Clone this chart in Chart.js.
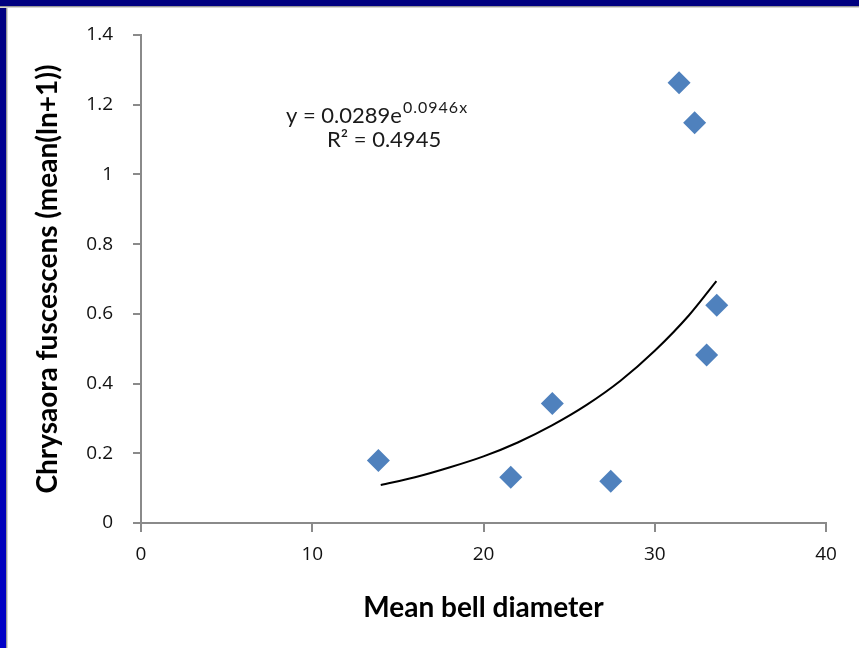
<!DOCTYPE html>
<html>
<head>
<meta charset="utf-8">
<script src="https://cdn.jsdelivr.net/npm/chart.js@4"></script>
<style>
  html, body { margin: 0; padding: 0; background: #fff; }
  .wrap { position: absolute; left: 0; top: 0; width: 859px; height: 648px; }
  .top-bar { position: absolute; left: 0; top: 0; width: 859px; height: 6px; background: #000080;
    border-bottom: 1px solid #9a9a9a; box-shadow: 0 1px 0 #d6d6d6; z-index: 2; }
  .left-bar { position: absolute; left: 0; top: 0; width: 6px; height: 648px;
    background: linear-gradient(#000080, #0000c8); border-right: 1px solid #9a9a9a; box-shadow: 1px 0 0 #d6d6d6; z-index: 1; }
</style>
</head>
<body>
<div class="wrap"><canvas id="chart"></canvas></div>
<div class="top-bar"></div>
<div class="left-bar"></div>
<script>
// bell diameter vs Chrysaora fuscescens
const bellDiameter = [13.86, 21.59, 24.02, 27.43, 31.42, 32.33, 33.03, 33.62];
const chrysaora = [0.179, 0.131, 0.343, 0.120, 1.263, 1.148, 0.482, 0.625];

// exponential trendline as drawn
const trendX = [14, 16, 18, 20, 22, 24, 26, 28, 30, 32, 33.6];
const trendY = [0.109, 0.131, 0.159, 0.191, 0.231, 0.280, 0.338, 0.408, 0.494, 0.596, 0.694];

const equationText = 'y = 0.0289e';
const equationExp = '0.0946x';
const rSquaredText = 'R² = 0.4945';

const xTitle = 'Mean bell diameter';
const yTitle = 'Chrysaora fuscescens (mean(ln+1))';

const axisGray = '#8a8a8a';
const tickFont = { family: 'Open Sans', size: 19 };

const equationLabel = {
  id: 'equationLabel',
  afterDraw(chart) {
    const ctx = chart.ctx;
    const { left, top } = chart.chartArea;
    const x = left + 145;
    ctx.save();
    ctx.fillStyle = '#1a1a1a';
    ctx.textBaseline = 'alphabetic';
    ctx.font = '22px Lato';
    ctx.fillText(equationText, x, top + 88);
    const w = ctx.measureText(equationText).width;
    ctx.font = '16px Lato';
    ctx.letterSpacing = '1px';
    ctx.fillText(equationExp, x + w + 1, top + 78);
    ctx.letterSpacing = '0px';
    ctx.font = '22px Lato';
    ctx.fillText(rSquaredText, x + 41, top + 112);
    ctx.restore();
  },
};

new Chart(document.getElementById('chart'), {
  type: 'scatter',
  data: {
    datasets: [
      {
        label: 'Chrysaora',
        data: bellDiameter.map((x, i) => ({ x, y: chrysaora[i] })),
        pointStyle: 'rectRot',
        pointRadius: 11.5,
        pointHoverRadius: 11.5,
        backgroundColor: '#4f81bd',
        borderWidth: 0,
      },
      {
        label: 'Expon.',
        type: 'line',
        data: trendX.map((x, i) => ({ x, y: trendY[i] })),
        borderColor: '#000',
        borderWidth: 2,
        pointRadius: 0,
        fill: false,
        cubicInterpolationMode: 'monotone',
      },
    ],
  },
  options: {
    responsive: true,
    maintainAspectRatio: false,
    animation: false,
    devicePixelRatio: 1,
    layout: { padding: { left: 8, top: 35, right: 33, bottom: 0 } },
    plugins: {
      legend: { display: false },
      tooltip: { enabled: false },
    },
    scales: {
      x: {
        type: 'linear',
        min: 0,
        max: 40,
        afterFit: (scale) => { scale.height = 125; },
        ticks: { stepSize: 10, color: '#111', font: tickFont, padding: 11 },
        grid: { drawOnChartArea: false, drawTicks: true, tickLength: 9, color: axisGray, lineWidth: 2 },
        border: { color: axisGray, width: 2 },
        title: {
          display: true,
          text: xTitle,
          color: '#000',
          font: { family: 'Lato', size: 28, weight: 'bold' },
          padding: { top: 0, bottom: 23 },
        },
      },
      y: {
        type: 'linear',
        min: 0,
        max: 1.4,
        afterFit: (scale) => { scale.width = 133; },
        ticks: {
          stepSize: 0.2,
          color: '#111',
          font: tickFont,
          padding: 20,
          callback: (v) => String(+v.toFixed(1)),
        },
        grid: { drawOnChartArea: false, drawTicks: true, tickLength: 8, color: axisGray, lineWidth: 2 },
        border: { color: axisGray, width: 2 },
        title: {
          display: true,
          text: yTitle,
          color: '#000',
          font: { family: 'Lato', size: 28, weight: 'bold' },
          padding: { top: 23, bottom: 0 },
        },
      },
    },
  },
  plugins: [equationLabel],
});
</script>
</body>
</html>
